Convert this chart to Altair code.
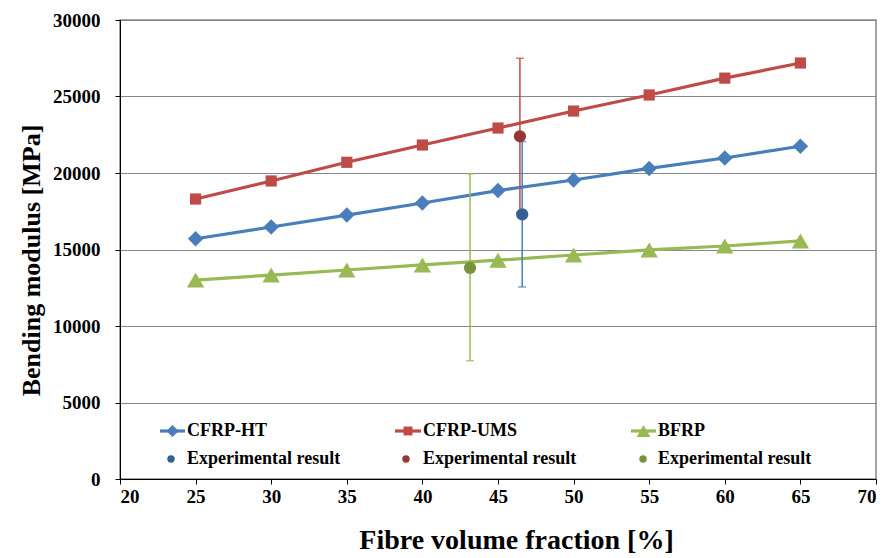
import altair as alt
import pandas as pd

# ---- data ----
fibre = [25, 30, 35, 40, 45, 50, 55, 60, 65]
cfrp_ht = [15700, 16470, 17250, 18040, 18850, 19540, 20300, 20980, 21750]
cfrp_ums = [18300, 19480, 20700, 21830, 22940, 24050, 25100, 26200, 27190]
bfrp = [13000, 13330, 13660, 13990, 14300, 14640, 14970, 15230, 15560]

series_names = ["CFRP-HT", "CFRP-UMS", "BFRP"]
exp_names = ["Exp CFRP-HT", "Exp CFRP-UMS", "Exp BFRP"]
exp_x = [46.6, 46.45, 43.15]
exp_y = [17300, 22400, 13800]
exp_lo = [12550, 17400, 7730]
exp_hi = [22050, 27500, 19950]

line_colors = ["#4A7EBB", "#BE4B48", "#98B954"]
point_colors = ["#376092", "#953735", "#77933C"]
shapes = ["diamond", "square", "triangle-up"]
sizes = [240, 125, 300]
leg_sizes = [150, 80, 190]

FONT = "Liberation Serif, Times New Roman, serif"

rows = []
for name, vals in zip(series_names, [cfrp_ht, cfrp_ums, bfrp]):
    for xv, yv in zip(fibre, vals):
        rows.append({"x": xv, "y": yv, "series": name})
df = pd.DataFrame(rows)

exp_df = pd.DataFrame({"x": exp_x, "y": exp_y, "lo": exp_lo, "hi": exp_hi,
                       "series": series_names, "label": exp_names})

xs = alt.Scale(domain=[20, 70], nice=False, zero=False)
ys = alt.Scale(domain=[0, 30000], nice=False)
cscale = alt.Scale(domain=series_names, range=line_colors)

X = alt.X("x:Q", scale=xs,
          axis=alt.Axis(title="Fibre volume fraction [%]", values=list(range(20, 71, 5)),
                        grid=False, titlePadding=20, labelPadding=3, titleX=396))
Y = alt.Y("y:Q", scale=ys,
          axis=alt.Axis(title="Bending modulus  [MPa]", values=list(range(0, 30001, 5000)),
                        format="d", grid=True, titlePadding=8, labelPadding=15, titleY=240))

base = alt.Chart(df)
lines = base.mark_line(strokeWidth=3.2).encode(
    x=X, y=Y, color=alt.Color("series:N", scale=cscale, legend=None))

marker_layers = []
for name, col, shp, sz in zip(series_names, line_colors, shapes, sizes):
    marker_layers.append(
        base.transform_filter(alt.datum.series == name)
        .mark_point(filled=True, opacity=1, shape=shp, size=sz, color=col)
        .encode(x="x:Q", y="y:Q"))

eb = alt.Chart(exp_df)
bars = eb.mark_rule(strokeWidth=1.5).encode(
    x="x:Q", y="lo:Q", y2="hi:Q",
    color=alt.Color("series:N", scale=cscale, legend=None))
cap_lo = eb.mark_tick(orient="horizontal", size=8, thickness=1.5).encode(
    x="x:Q", y="lo:Q", color=alt.Color("series:N", scale=cscale, legend=None))
cap_hi = eb.mark_tick(orient="horizontal", size=8, thickness=1.5).encode(
    x="x:Q", y="hi:Q", color=alt.Color("series:N", scale=cscale, legend=None))
exp_pts = eb.mark_circle(size=150, opacity=1).encode(
    x="x:Q", y="y:Q",
    color=alt.Color("label:N", scale=alt.Scale(domain=exp_names, range=point_colors), legend=None))

# ---- legend (pixel layout inside plot) ----
leg_line = pd.DataFrame({"series": series_names,
                         "x1": [40, 275, 511], "x2": [65, 301, 536],
                         "xm": [52.5, 288, 523.5], "xt": [67, 303, 538],
                         "yy": [411, 411, 411]})
leg_exp = pd.DataFrame({"label": ["Experimental result"] * 3, "series": series_names,
                        "xm": [51, 286, 523], "xt": [67, 303, 538],
                        "yy": [439, 439, 439]})
lsc = alt.Scale(domain=series_names, range=line_colors)
leg_rules = alt.Chart(leg_line).mark_rule(strokeWidth=3.2).encode(
    x=alt.X("x1:Q", scale=None), x2="x2:Q", y=alt.Y("yy:Q", scale=None),
    color=alt.Color("series:N", scale=lsc, legend=None))
leg_mark_layers = []
for name, col, shp, sz in zip(series_names, line_colors, shapes, leg_sizes):
    leg_mark_layers.append(
        alt.Chart(leg_line).transform_filter(alt.datum.series == name)
        .mark_point(filled=True, opacity=1, shape=shp, size=sz, color=col)
        .encode(x=alt.X("xm:Q", scale=None), y=alt.Y("yy:Q", scale=None)))
leg_text1 = alt.Chart(leg_line).mark_text(align="left", baseline="middle", font=FONT,
                                          fontWeight="bold", fontSize=18, color="black").encode(
    x=alt.X("xt:Q", scale=None), y=alt.Y("yy:Q", scale=None), text="series:N")
leg_dots = alt.Chart(leg_exp).mark_circle(size=55, opacity=1).encode(
    x=alt.X("xm:Q", scale=None), y=alt.Y("yy:Q", scale=None),
    color=alt.Color("series:N", scale=alt.Scale(domain=series_names, range=point_colors), legend=None))
leg_text2 = alt.Chart(leg_exp).mark_text(align="left", baseline="middle", font=FONT,
                                         fontWeight="bold", fontSize=18, color="black").encode(
    x=alt.X("xt:Q", scale=None), y=alt.Y("yy:Q", scale=None), text="label:N")

chart = alt.layer(
    lines, *marker_layers, bars, cap_lo, cap_hi, exp_pts,
    leg_rules, *leg_mark_layers, leg_text1, leg_dots, leg_text2
).resolve_scale(color="independent").properties(
    width=756, height=459,
    autosize=alt.AutoSizeParams(type="none"),
    padding={"left": 112, "top": 12, "right": 2, "bottom": 79},
).configure_view(
    stroke="#868686", strokeWidth=1.5
).configure_axis(
    labelFont=FONT, labelFontWeight="bold", labelFontSize=19, labelColor="black",
    titleFont=FONT, titleFontWeight="bold", titleColor="black",
    domainColor="black", domainWidth=1, tickColor="black", tickSize=5, tickWidth=1,
    gridColor="#868686", gridWidth=1,
).configure_axisX(
    titleFontSize=28
).configure_axisY(
    titleFontSize=26
)

chart.save("out.html", embed_options={"renderer": "svg", "actions": False})
